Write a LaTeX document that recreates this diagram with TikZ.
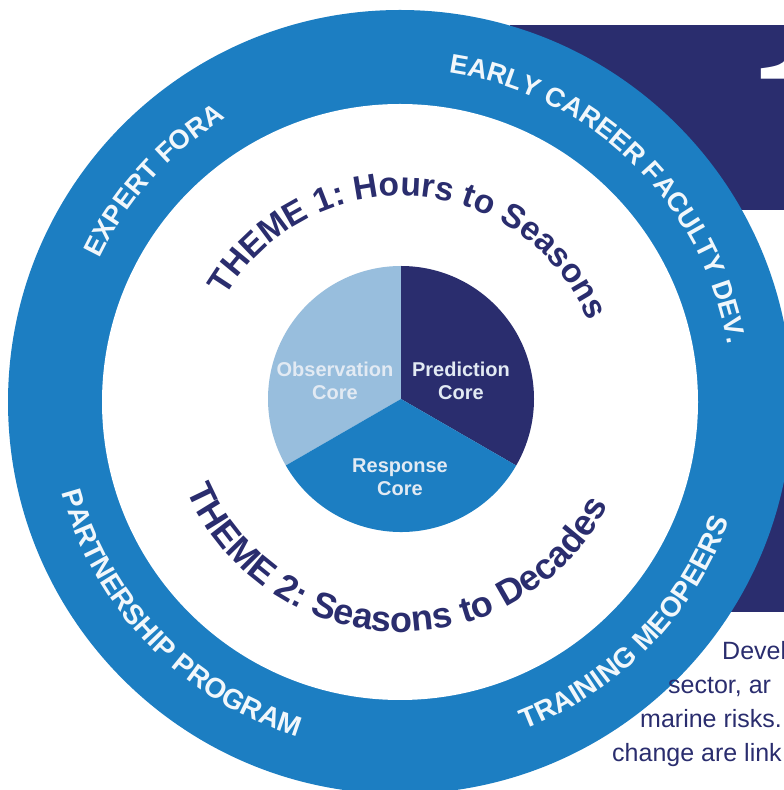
\documentclass[tikz,border=0pt]{standalone}
\usepackage{fontspec}
\setmainfont{Liberation Sans}
\newfontfamily\numfont{TeX Gyre Heros}
\usetikzlibrary{decorations.text, positioning}
\definecolor{ringblue}{RGB}{28,126,194}
\definecolor{themenavy}{RGB}{42,45,110}
\definecolor{obslight}{RGB}{152,190,221}
\definecolor{coretext}{RGB}{226,234,243}
\newcommand{\ringfont}{\bfseries\fontsize{27}{27}\selectfont}
\newcommand{\ringlowfont}{\bfseries\fontsize{28}{28}\selectfont}
\newcommand{\themeonefont}{\bfseries\fontsize{33.5}{33.5}\selectfont}
\newcommand{\themetwofont}{\bfseries\fontsize{36}{36}\selectfont}
\tikzset{
    ringlabel/.style={decorate, decoration={text along path, text align=center, text color=white!94!ringblue, text={|\ringfont|#1}}},
    ringlow/.style={decorate, decoration={text along path, text align=center, text color=white!94!ringblue, text={|\ringlowfont|#1}}},
    themeone/.style={decorate, decoration={text along path, text align=center, text color=themenavy, text={|\themeonefont|#1}}},
    themetwo/.style={decorate, decoration={text along path, text align=center, text color=themenavy, text={|\themetwofont|#1}}},
    corelabel/.style={align=center, text=coretext, font=\bfseries\fontsize{20}{23.5}\selectfont, inner sep=0pt},
    bodyline/.style={anchor=base west, text=themenavy, font=\fontsize{25}{25}\selectfont, inner sep=0pt},
}

\begin{document}
\begin{tikzpicture}[x=1pt, y=1pt]
\useasboundingbox (0,0) rectangle (784,790);
\clip (0,0) rectangle (784,790);

% Navy panel behind the ring
\fill[themenavy] (510,178) rectangle (790,765);
\fill[white] (600,337) rectangle (790,580);
\node[anchor=base west, inner sep=0pt, text=white, font=\numfont\fontsize{165}{165}\selectfont] (bignum) at (744,627) {1};

% Outer ring
\coordinate (ringc) at (400,388);
\fill[ringblue] (ringc) circle[radius=392];
\fill[white] (ringc) circle[radius=298];

% Ring labels (top ones clockwise, bottom ones counter-clockwise)
\path[ringlabel={EXPERT FORA}] ([shift={(180:333)}]ringc) arc[start angle=180, end angle=96, radius=333];
\path[ringlabel={EARLY CAREER FACULTY DEV.}] ([shift={(102:333)}]ringc) arc[start angle=102, end angle=-10.5, radius=333];
\path[ringlow={PARTNERSHIP PROGRAM}] ([shift={(168:350)}]ringc) arc[start angle=168, end angle=280, radius=350];
\path[ringlow={TRAINING MEOPEERS}] ([shift={(260:350)}]ringc) arc[start angle=260, end angle=371, radius=350];

% Core pie
\coordinate (piec) at (401,391);
\fill[obslight] (piec) -- ++(90:133) arc[start angle=90, end angle=210, radius=133] -- cycle;
\fill[themenavy] (piec) -- ++(90:133) arc[start angle=90, end angle=-30, radius=133] -- cycle;
\fill[ringblue] (piec) -- ++(210:133) arc[start angle=210, end angle=330, radius=133] -- cycle;

\node[corelabel] (obs) at ([shift={(-66,18)}]piec) {Observation\\Core};
\node[corelabel] (pred) at ([shift={(60,18)}]piec) {Prediction\\Core};
\node[corelabel] (resp) at ([shift={(-1,-78)}]piec) {Response\\Core};

% Theme labels round the pie
\path[themeone={THEME 1: Hours to Seasons}] ([shift={(156:203)}]piec) arc[start angle=156, end angle=16, radius=203];
\path[themetwo={THEME 2: Seasons to Decades}] ([shift={(193:233)}]piec) arc[start angle=193, end angle=343, radius=233];

% Body text running off the page
\node[bodyline] (line1) at (722,130) {Devel};
\node[bodyline] (line2) at (668,96) {sector, ar};
\node[bodyline] (line3) at (640,62) {marine risks.};
\node[bodyline] (line4) at (612,28) {change are link};

\end{tikzpicture}
\end{document}
